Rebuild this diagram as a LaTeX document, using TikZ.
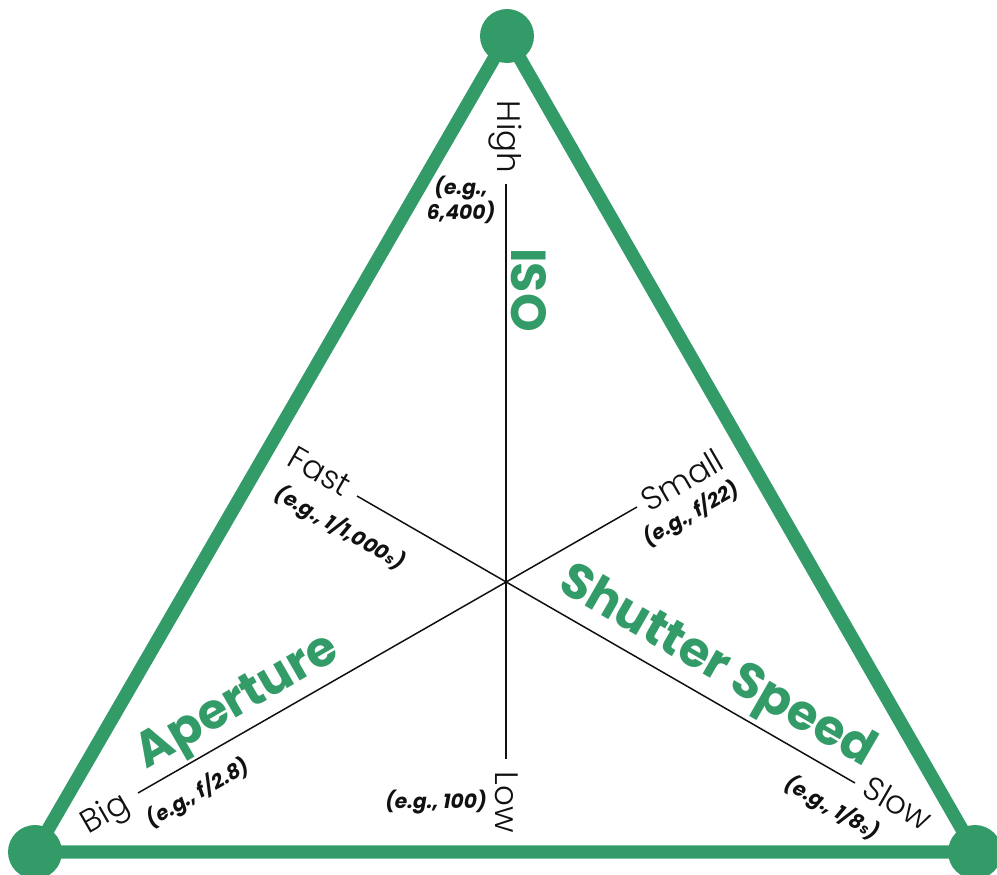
\documentclass[tikz,border=0pt]{standalone}
\usepackage{fontspec}
\setmainfont{Poppins}
\newfontfamily\thinfont{Poppins Light}
\usetikzlibrary{positioning}
\definecolor{TriGreen}{HTML}{339B68}
\definecolor{TriInk}{HTML}{111111}

\begin{document}
\begin{tikzpicture}[x=0.02cm,y=-0.02cm,
  side/.style={TriGreen,line width=7.6pt,line cap=round,line join=round},
  corner/.style={circle,fill=TriGreen,inner sep=0pt,minimum size=1.08cm},
  axis/.style={TriInk,line width=0.85pt},
  axisname/.style={text=TriGreen,font=\fontsize{28}{30}\selectfont\bfseries,inner sep=0pt},
  endlabel/.style={text=TriInk,font=\thinfont\fontsize{18.5}{20}\selectfont,inner sep=0pt},
  example/.style={text=TriInk,font=\fontsize{11.5}{14}\selectfont\bfseries\itshape,inner sep=0pt,align=center}]
  \useasboundingbox (0,0) rectangle (997,875);

  % the three corners
  \node[corner] (top) at (507,36) {};
  \node[corner] (left) at (35,852) {};
  \node[corner] (right) at (975,852) {};
  \draw[side] (top.center) -- (left.center) -- (right.center) -- cycle;

  % axes through the hub
  \coordinate (hub) at (506,581);
  \coordinate (isoHigh) at (506,184);
  \coordinate (isoLow) at (506,759);
  \coordinate (fastEnd) at (357,496);
  \coordinate (slowEnd) at (855,783);
  \coordinate (smallEnd) at (637,507);
  \coordinate (bigEnd) at (138,793);
  \draw[axis] (isoHigh) -- (isoLow);
  \draw[axis] (fastEnd) -- (slowEnd);
  \draw[axis] (smallEnd) -- (bigEnd);

  % ISO
  \node[axisname,rotate=-90] (isoName) at (529,290) {ISO};
  \node[endlabel,rotate=-90] (high) at (505,137) {High};
  \node[example] (highEx) at (461,200) {(e.g.,\\6,400)};
  \node[endlabel,rotate=-90] (low) at (507,802) {Low};
  \node[example] (lowEx) at (436,802) {(e.g., 100)};

  % shutter speed
  \node[axisname,rotate=-30] (shutterName) at (716,668) {Shutter Speed};
  \node[endlabel,rotate=-30] (fast) at (320,471) {Fast};
  \node[example,rotate=-30] (fastEx) at (340,528) {(e.g., 1/1,000{\footnotesize s})};
  \node[endlabel,rotate=-30] (slow) at (898,803) {Slow};
  \node[example,rotate=-30] (slowEx) at (832,808) {(e.g., 1/8{\footnotesize s})};

  % aperture
  \node[axisname,rotate=30] (apertureName) at (239,704) {Aperture};
  \node[endlabel,rotate=30] (small) at (682,480) {Small};
  \node[example,rotate=30] (smallEx) at (691,514) {(e.g., f/22)};
  \node[endlabel,rotate=30] (big) at (106,815) {Big};
  \node[example,rotate=30] (bigEx) at (198,793) {(e.g., f/2.8)};
\end{tikzpicture}
\end{document}
